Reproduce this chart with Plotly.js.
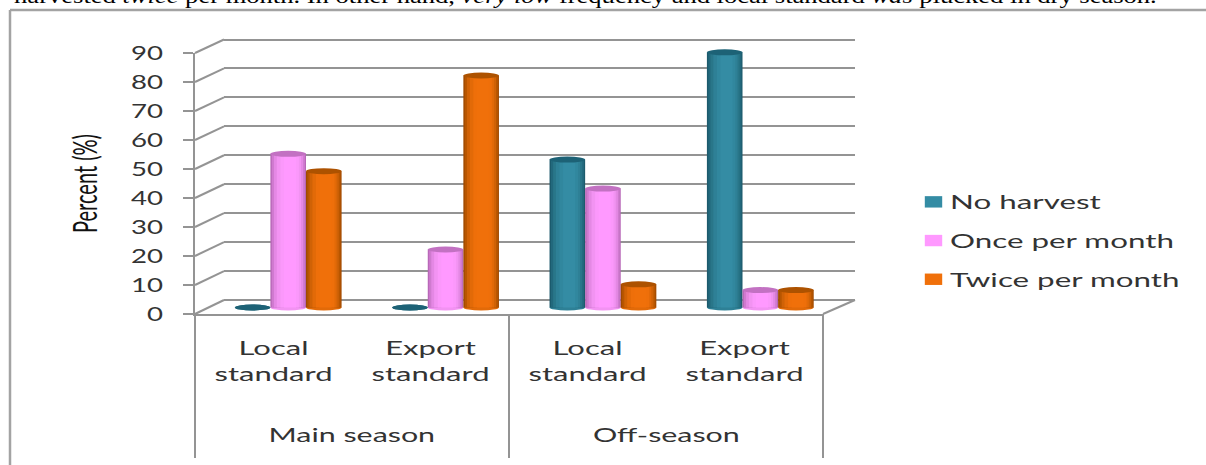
<!DOCTYPE html>
<html>
<head>
<meta charset="utf-8">
<script src="https://cdn.plot.ly/plotly-3.0.1.min.js"></script>
<style>html,body{margin:0;padding:0;background:#fff}#chart{width:1206px;height:465px}</style>
</head>
<body>
<div id="chart"></div>
<script>
// Harvest frequency by season and standard
const seasonNames = ['Main season', 'Off-season'];
const seasonCentres = [0.5, 2.5];
const seasonEdges = [-0.5, 1.5, 3.5];
const standards = ['Local<br>standard', 'Export<br>standard', 'Local<br>standard', 'Export<br>standard'];
const noHarvest = [0, 0, 51, 88];
const oncePerMonth = [53, 20, 41, 6];
const twicePerMonth = [47, 80, 8, 6];
const percentTicks = [0, 10, 20, 30, 40, 50, 60, 70, 80, 90];
const bodyText = 'harvested <i>twice</i> per month. In other hand, <i>very low</i> frequency and local standard <i>was</i> plucked in dry season.';

const W = 1206, H = 465;
const px = v => v / W;
const py = v => 1 - v / H;

// Box geometry of the pseudo-3D plot, in canvas pixels
const front = {x0: 195, x1: 823, y0: 314, y1: 53};
const back = {x0: 224, x1: 855, y0: 300, y1: 39.5};
const mid = {x0: 209.5, x1: 839, y0: 307.5, y1: 46.5};
const pxPerUnit = (mid.y0 - mid.y1) / 90;
const wallPerUnit = (back.y0 - back.y1) / 90;
const barFloor = -3;
const wallTop = 92;

const barWidth = 35.6 / ((mid.x1 - mid.x0) / 4);
const series = [
  {name: 'No harvest', y: noHarvest, cap: '#1d6276',
   shades: ['#1c5a6c', '#22687c', '#297689', '#2e8096', '#31879e', '#348ca4']},
  {name: 'Once per month', y: oncePerMonth, cap: '#c271c2',
   shades: ['#b868b8', '#cf7acf', '#e488e4', '#f293f2', '#fb98fb', '#ff99ff']},
  {name: 'Twice per month', y: twicePerMonth, cap: '#ad5200',
   shades: ['#a04a00', '#b85600', '#d06206', '#e26a08', '#ee6f0a', '#f0700a']}
];
// Left and right edges of each shading band, as fractions of a cylinder's width
const bands = [[0, 1], [.04, .97], [.1, .92], [.18, .86], [.28, .8], [.38, .72]];

const categoryIndex = [0, 1, 2, 3];
const traces = [];
const shapes = [];

// Invisible carriers that keep the front axis and the back wall axis alive
traces.push({type: 'scatter', mode: 'none', x: categoryIndex, y: [0, 0, 0, 0],
  xaxis: 'x3', yaxis: 'y3', showlegend: false, hoverinfo: 'skip'});
traces.push({type: 'scatter', mode: 'none', x: categoryIndex, y: [0, 0, 0, 0],
  xaxis: 'x', yaxis: 'y', showlegend: false, hoverinfo: 'skip'});

series.forEach((s, i) => {
  const start = (i - 1.5) * barWidth;
  bands.forEach((b, k) => {
    const last = k === bands.length - 1;
    traces.push({
      type: 'bar', x: categoryIndex, y: s.y, xaxis: 'x2', yaxis: 'y2',
      width: barWidth * (b[1] - b[0]), offset: start + barWidth * b[0],
      marker: {color: s.shades[k], line: {width: 0}},
      name: s.name, legendgroup: s.name, showlegend: last, hoverinfo: last ? 'name+y' : 'skip'
    });
  });
  s.y.forEach((v, c) => {
    const xa = c + start, xb = c + start + barWidth;
    // Rounded foot of the cylinder
    shapes.push({type: 'circle', layer: 'below', xref: 'x2', yref: 'y2', x0: xa, x1: xb,
      y0: -3 / pxPerUnit, y1: 3 / pxPerUnit, fillcolor: v > 0 ? s.shades[3] : s.cap, line: {width: 0}});
    // Darker top face
    shapes.push({type: 'circle', layer: 'above', xref: 'x2', yref: 'y2', x0: xa, x1: xb,
      y0: v - 3 / pxPerUnit, y1: v + 3 / pxPerUnit, fillcolor: s.cap, line: {width: 0}});
  });
});

const frameLine = {color: '#a3a3a3', width: 2.5};
const boxColour = '#949494';
const boxLine = {color: boxColour, width: 2};
const seg = (x0, y0, x1, y1, line) => ({type: 'line', xref: 'paper', yref: 'paper', layer: 'below',
  x0: px(x0), y0: py(y0), x1: px(x1), y1: py(y1), line});

// Outer frame of the figure
shapes.push(seg(10, 10, W, 10, frameLine), seg(10, 10, 10, H, frameLine));
// Side wall: a slanted line from each front tick to the back wall
const step = (front.y0 - front.y1) / 90;
percentTicks.forEach(t => shapes.push(seg(front.x0, front.y0 - t * step, back.x0, back.y0 - t * wallPerUnit, boxLine)));
// Right edge of the floor
shapes.push(seg(front.x1, front.y0, back.x1, back.y0, boxLine));
// Season dividers hanging under the front edge
const frontX = e => front.x0 + (e + .5) / 4 * (front.x1 - front.x0);
seasonEdges.forEach(e => shapes.push(seg(frontX(e), front.y0, frontX(e), 458, boxLine)));

const annotations = seasonNames.map((name, i) => ({xref: 'x3', yref: 'paper', x: seasonCentres[i], y: py(434),
  xanchor: 'center', yanchor: 'middle', showarrow: false, text: name, font: {size: 20, color: '#333'}}));
annotations.push({xref: 'paper', yref: 'paper', x: px(585.5), y: 1, xanchor: 'center', yanchor: 'bottom', yshift: -10,
  showarrow: false, text: bodyText, font: {family: 'Liberation Serif, serif', size: 20, color: '#000'}});

const layout = {
  width: W, height: H, margin: {l: 0, r: 0, t: 0, b: 0}, autosize: false,
  paper_bgcolor: '#fff', plot_bgcolor: 'rgba(0,0,0,0)',
  font: {family: 'Lato, sans-serif', size: 19, color: '#333'},
  barmode: 'overlay', shapes, annotations,
  xaxis: {domain: [px(back.x0), px(back.x1)], range: [-.5, 3.5], visible: false, fixedrange: true},
  yaxis: {domain: [py(back.y0), py(back.y0 - wallTop * wallPerUnit)], range: [0, wallTop], tickvals: percentTicks, showticklabels: false,
    ticks: '', showgrid: true, gridcolor: boxColour, gridwidth: 2, zeroline: true, zerolinecolor: boxColour,
    zerolinewidth: 2, showline: false, fixedrange: true},
  xaxis2: {domain: [px(mid.x0), px(mid.x1)], range: [-.5, 3.5], visible: false, anchor: 'y2', fixedrange: true},
  yaxis2: {domain: [py(mid.y0 - barFloor * pxPerUnit), py(mid.y1)], range: [barFloor, 90], visible: false, anchor: 'x2', fixedrange: true},
  xaxis3: {domain: [px(front.x0), px(front.x1)], range: [-.5, 3.5], anchor: 'y3', showline: true, showgrid: false,
    zeroline: false, linecolor: boxColour, linewidth: 2, ticks: '', tickvals: categoryIndex, ticktext: standards,
    tickangle: 0, ticklabelstandoff: 15, tickfont: {size: 20}, fixedrange: true},
  yaxis3: {domain: [py(front.y0), py(front.y1)], range: [0, 90], anchor: 'x3', tickvals: percentTicks,
    showgrid: false, zeroline: false, showline: true, linecolor: boxColour, linewidth: 2, ticks: 'outside',
    ticklen: 10, tickwidth: 2, tickcolor: boxColour, ticklabelstandoff: 16, tickfont: {size: 20},
    title: {text: 'Percent (%)', font: {size: 20, color: '#111'}, standoff: 37}, fixedrange: true},
  legend: {x: px(910), xanchor: 'left', y: py(183), yanchor: 'top', tracegroupgap: 11,
    font: {size: 19}, bgcolor: 'rgba(0,0,0,0)', traceorder: 'grouped'}
};

// Calibri-style labels in this figure are wider than the available faces, so widen them after drawing
function widen(gd) {
  const bodyWidth = 1143;
  gd.querySelectorAll('svg text').forEach(t => {
    const cls = t.getAttribute('class') || '';
    const base = t.getAttribute('transform') || '';
    const x = parseFloat(t.getAttribute('x')) || 0;
    const y = parseFloat(t.getAttribute('y')) || 0;
    if (cls.includes('annotation-text')) {
      const b = t.getBBox();
      const cx = b.x + b.width / 2;
      const k = b.width > 500 ? bodyWidth / b.width : 1.52;
      t.setAttribute('transform', `${base} translate(${cx},0) scale(${k},1) translate(${-cx},0)`);
    } else if (cls.includes('ytitle') || cls.includes('y3title')) {
      t.setAttribute('transform', `${base} translate(0,${y}) scale(1,1.6) translate(0,${-y})`);
    } else {
      let k = 1.38;
      if (cls.includes('legendtext')) k = 1.65;
      else if (t.closest('.xaxislayer-above')) k = 1.55;
      t.setAttribute('transform', `${base} translate(${x},0) scale(${k},1) translate(${-x},0)`);
    }
  });
  // Let the widened legend text run past the box measured before widening
  gd.querySelectorAll('.legend, .legend .scrollbox').forEach(g => {
    g.removeAttribute('clip-path');
    g.style.clipPath = 'none';
  });
  // Legend swatches are wide rectangles
  gd.querySelectorAll('.legendpoints path').forEach(p => {
    const base = p.getAttribute('transform') || '';
    p.setAttribute('transform', `${base} translate(3.5,0) scale(1.45,.95)`);
  });
}

Plotly.newPlot('chart', traces, layout, {displayModeBar: false, staticPlot: true}).then(widen);
</script>
</body>
</html>
